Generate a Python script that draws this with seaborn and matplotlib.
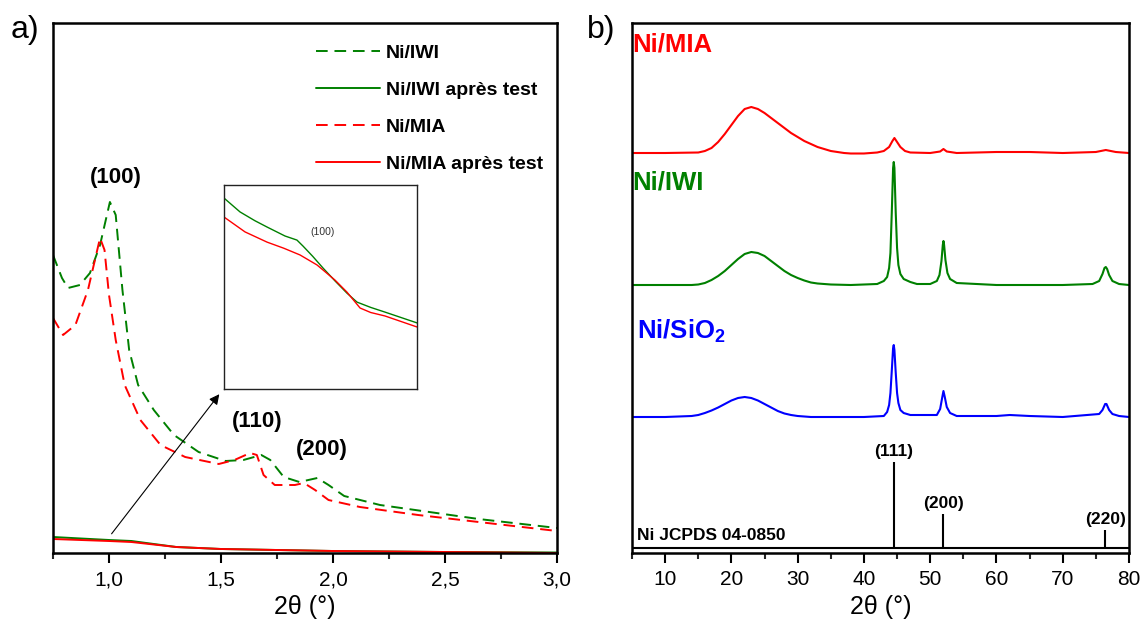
import numpy as np
import pandas as pd
import matplotlib
matplotlib.use("Agg")
import matplotlib.pyplot as plt
import seaborn as sns

# ---------------- Panel a) low-angle XRD ----------------
iwi_x = [0.75, 0.79, 0.817, 0.87, 0.915, 0.96, 1.004, 1.03, 1.06, 1.09, 1.13, 1.20, 1.29, 1.40, 1.52, 1.60,
         1.68, 1.72, 1.78, 1.85, 1.93, 1.98, 2.05, 2.21, 2.43, 2.65, 3.0]
iwi_y = [298, 275, 265, 268, 280, 308, 351, 338, 263, 203, 168, 143, 118, 101, 92, 93,
         98, 93, 76, 71, 75, 68, 57, 48, 41, 34, 25]

mia_x = [0.75, 0.795, 0.85, 0.906, 0.96, 0.98, 1.0, 1.03, 1.07, 1.14, 1.23, 1.34, 1.49, 1.56, 1.63,
         1.66, 1.69, 1.74, 1.83, 1.87, 1.92, 1.98, 2.12, 2.38, 2.65, 3.0]
mia_y = [235, 218, 228, 263, 315, 303, 258, 213, 168, 133, 108, 96, 89, 93, 100,
         98, 78, 68, 68, 70, 63, 53, 46, 38, 31, 22]

iwi_test_x = [0.75, 1.0, 1.1, 1.3, 1.5, 2.0, 2.5, 3.0]
iwi_test_y = [16, 13, 12, 6, 4, 2, 1, 0.5]
mia_test_x = [0.75, 1.0, 1.1, 1.3, 1.5, 2.0, 2.5, 3.0]
mia_test_y = [14, 12, 11, 6, 4, 2, 1, 0]

# inset (zoom of the "après test" curves around the (100) reflection)
inset_iwi_x = [0.0, 0.083, 0.16, 0.223, 0.316, 0.378, 0.41, 0.46, 0.513, 0.575, 0.637, 0.689, 0.76, 0.834, 1.0]
inset_iwi_y = [0.936, 0.868, 0.825, 0.794, 0.75, 0.73, 0.70, 0.65, 0.593, 0.53, 0.47, 0.426, 0.40, 0.377, 0.324]
inset_mia_x = [0.0, 0.109, 0.223, 0.31, 0.394, 0.482, 0.575, 0.637, 0.705, 0.76, 0.834, 1.0]
inset_mia_y = [0.843, 0.77, 0.72, 0.69, 0.657, 0.608, 0.534, 0.475, 0.397, 0.375, 0.358, 0.304]

a_ticks = [1.0, 1.5, 2.0, 2.5, 3.0]
a_ticklabels = ["1,0", "1,5", "2,0", "2,5", "3,0"]
a_peaks = ["(100)", "(110)", "(200)"]
a_peak_pos = [(1.03, 376), (1.66, 131), (1.95, 104)]

# ---------------- Panel b) wide-angle XRD ----------------
b_mia_x = [5, 10, 15, 16, 17, 18, 19, 20, 21, 22, 23, 24, 25, 26, 27, 28, 29, 30, 31, 32, 33, 34, 35, 36,
           37, 38, 40, 42, 43, 43.8, 44.3, 44.6, 45.0, 45.5, 46.2, 47, 50, 51.5, 52, 52.5, 54, 60, 65,
           70, 75, 76.5, 78, 80]
b_mia_y = [400, 400, 400.5, 402, 405, 411, 419, 428, 437, 444, 446, 444, 440, 435, 430, 425, 420, 416, 412,
           409, 406, 404, 402, 401, 400, 399.5, 399.5, 400.5, 402, 406, 412, 415, 411, 406, 402, 400.5,
           400, 401.5, 404, 401.5, 400, 401, 401, 400, 401, 403, 401, 400]

b_iwi_x = [5, 10, 14, 15, 16, 17, 18, 19, 20, 21, 22, 23, 24, 25, 26, 27, 28, 29, 30, 31, 32, 33, 35,
           38, 42, 43, 43.5, 43.8, 44.0, 44.2, 44.4, 44.5, 44.6, 44.8, 45.0, 45.2, 45.5, 46, 47, 48,
           50, 51, 51.4, 51.7, 51.9, 52.0, 52.1, 52.3, 52.6, 53, 54, 60, 65, 70, 74.5, 75.5, 76, 76.3,
           76.5, 76.7, 77, 77.5, 78.5, 80]
b_iwi_y = [268, 268, 268, 268.5, 270, 273, 277, 282, 288, 294, 299, 301, 300, 297, 292, 287, 282, 278, 275,
           272.5, 270.5, 269.5, 268.5, 268, 269, 272, 276, 285, 300, 340, 385, 391, 385, 340, 305, 288,
           279, 274, 271, 269, 269, 272, 278, 292, 308, 312, 308, 293, 280, 274, 270, 268, 268, 268,
           269, 272, 279, 285, 286, 284, 278, 272, 269, 268]

b_sio_x = [5, 10, 14, 15, 16, 17, 18, 19, 20, 21, 22, 23, 24, 25, 26, 27, 28, 29, 30, 32, 40, 43, 43.5,
           43.8, 44.0, 44.2, 44.4, 44.5, 44.6, 44.8, 45.0, 45.2, 45.5, 46, 47, 51, 51.5, 51.8, 52.0,
           52.2, 52.5, 53, 54, 60, 62, 65, 70, 75.5, 76, 76.4, 76.6, 77, 77.5, 78.5, 80]
b_sio_y = [136, 136, 137, 138, 140, 142.5, 145.5, 149, 152.5, 155, 156, 155, 152.5, 149, 145.5, 142, 139.5,
           138, 137, 136, 136, 137, 141, 148, 160, 182, 205, 208, 203, 180, 160, 150, 143, 140, 138, 138,
           144, 155, 162, 156, 146, 140, 137, 137, 138, 137, 136, 139, 143, 149, 149, 143, 139, 137, 136]

ref_pos = [44.5, 52.0, 76.4]
ref_height = [91, 39, 23]
ref_labels = ["(111)", "(200)", "(220)"]
ref_base = 5

b_ticks = [10, 20, 30, 40, 50, 60, 70, 80]
sample_labels = ["Ni/MIA", "Ni/IWI", "Ni/SiO$_\\mathbf{2}$"]

# ---------------- style ----------------
sns.set_theme(style="ticks")
plt.rcParams["font.family"] = ["Liberation Sans", "DejaVu Sans"]
plt.rcParams["mathtext.fontset"] = "custom"
plt.rcParams["mathtext.rm"] = "Liberation Sans"
plt.rcParams["mathtext.bf"] = "Liberation Sans:bold"
plt.rcParams["text.color"] = "black"
plt.rcParams["axes.labelcolor"] = "black"

GREEN = "#008000"
RED = "#ff0000"
BLUE = "#0000ff"

fig = plt.figure(figsize=(11.42, 6.19), dpi=100)
W, H = 1142, 619

def fax(l, t, r, b):
    return [l / W, (H - b) / H, (r - l) / W, (b - t) / H]

axa = fig.add_axes(fax(53, 23, 557, 553))
axb = fig.add_axes(fax(632, 23, 1129, 553))

dash = (6, 3.5)
sns.lineplot(x=iwi_x, y=iwi_y, ax=axa, color=GREEN, lw=1.4, label="Ni/IWI", linestyle=(0, dash))
sns.lineplot(x=iwi_test_x, y=iwi_test_y, ax=axa, color=GREEN, lw=1.4, label="Ni/IWI après test")
sns.lineplot(x=mia_x, y=mia_y, ax=axa, color=RED, lw=1.4, label="Ni/MIA", linestyle=(0, dash))
sns.lineplot(x=mia_test_x, y=mia_test_y, ax=axa, color=RED, lw=1.4, label="Ni/MIA après test")

axa.set_xlim(0.75, 3.0)
axa.set_ylim(0, 530)
axa.set_xticks(a_ticks)
axa.set_xticklabels(a_ticklabels)
axa.set_xticks([0.75, 1.25, 1.75, 2.25, 2.75], minor=True)
axa.set_yticks([])
axa.set_xlabel("2θ (°)", fontsize=18, labelpad=4)
axa.set_ylabel("")

for lab, (px, py) in zip(a_peaks, a_peak_pos):
    axa.text(px, py, lab, ha="center", va="center", fontsize=16, fontweight="bold", color="black")

leg = axa.legend(loc="upper left", bbox_to_anchor=(0.522, 0.960), frameon=False,
                 prop={"weight": "bold", "size": 14}, handlelength=3.3, labelspacing=1.0,
                 handletextpad=0.3, borderpad=0, borderaxespad=0, labelcolor="black")

# arrow to inset
axa.annotate("", xy=(1.5, 161), xytext=(1.004, 17),
             arrowprops=dict(arrowstyle="-|>", color="black", lw=0.8, mutation_scale=15))

# inset
axi = fig.add_axes(fax(224, 185, 417, 389))
sns.lineplot(x=inset_iwi_x, y=inset_iwi_y, ax=axi, color=GREEN, lw=1.0)
sns.lineplot(x=inset_mia_x, y=inset_mia_y, ax=axi, color=RED, lw=1.0)
axi.set_xlim(0, 1)
axi.set_ylim(0, 1)
axi.set_xticks([])
axi.set_yticks([])
axi.set_xlabel("")
axi.set_ylabel("")
axi.text(0.51, 0.77, "(100)", ha="center", va="center", fontsize=7.5, color="#333333")
for s in axi.spines.values():
    s.set_linewidth(1.0)
    s.set_color("#222222")

# panel b
sns.lineplot(x=b_mia_x, y=b_mia_y, ax=axb, color=RED, lw=1.5)
sns.lineplot(x=b_iwi_x, y=b_iwi_y, ax=axb, color=GREEN, lw=1.5)
sns.lineplot(x=b_sio_x, y=b_sio_y, ax=axb, color=BLUE, lw=1.5)
axb.hlines(ref_base, 5, 80, color="black", lw=1.5)
axb.vlines(ref_pos, ref_base, ref_height, color="black", lw=1.5)
for p, h, lab in zip(ref_pos, ref_height, ref_labels):
    axb.text(p, h + 3, lab, ha="center", va="bottom", fontsize=12.5, fontweight="bold", color="black")
axb.text(5.7, 10, "Ni JCPDS 04-0850", ha="left", va="bottom", fontsize=12.5, fontweight="bold",
         color="black")

axb.text(5.1, 508, sample_labels[0], color=RED, fontsize=18.5, fontweight="bold", va="center")
axb.text(5.1, 370, sample_labels[1], color=GREEN, fontsize=18.5, fontweight="bold", va="center")
axb.text(5.8, 222, sample_labels[2], color=BLUE, fontsize=18.5, fontweight="bold", va="center")

axb.set_xlim(5, 80)
axb.set_ylim(0, 530)
axb.set_xticks(b_ticks)
axb.set_xticks([5, 15, 25, 35, 45, 55, 65, 75], minor=True)
axb.set_yticks([])
axb.set_xlabel("2θ (°)", fontsize=18, labelpad=4)
axb.set_ylabel("")

for ax in (axa, axb):
    for s in ax.spines.values():
        s.set_linewidth(1.8)
        s.set_color("black")
    ax.tick_params(axis="x", which="major", direction="out", length=7.5, width=1.5,
                   labelsize=15, pad=5, colors="black")
    ax.tick_params(axis="x", which="minor", direction="out", length=4, width=1.5)
    ax.tick_params(axis="y", left=False, labelleft=False)

fig.text(25 / W, 1 - 30 / H, "a)", fontsize=23, va="center", ha="center", color="black")
fig.text(601 / W, 1 - 30 / H, "b)", fontsize=23, va="center", ha="center", color="black")

fig.savefig("out.png", dpi=100)
